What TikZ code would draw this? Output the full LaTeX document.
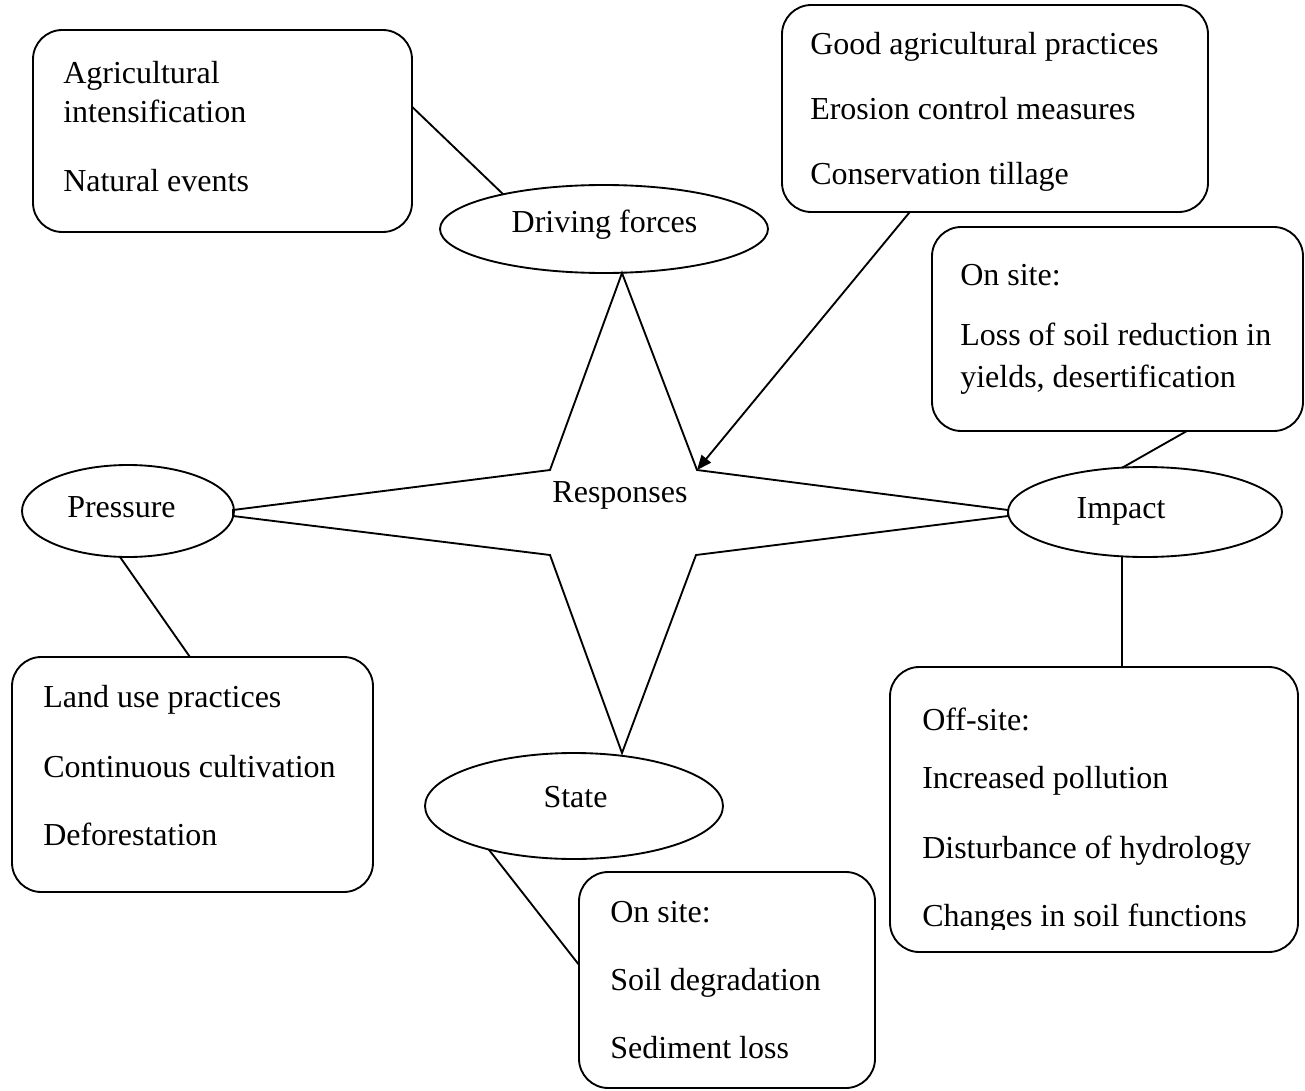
\documentclass[tikz,border=0pt]{standalone}
\usepackage{fontspec}
\setmainfont{Liberation Serif}
\usetikzlibrary{arrows.meta,shapes.geometric,calc}
\begin{document}
\begin{tikzpicture}[x=0.75pt,y=-0.75pt,
  every node/.style={font=\fontsize{24}{28}\selectfont},
  box/.style={draw, rounded corners=22pt, line width=1.4pt, inner sep=0pt, outer sep=0pt},
  oval/.style={draw, ellipse, line width=1.4pt, inner sep=0pt, outer sep=0pt},
  txt/.style={anchor=base west, inner sep=0pt},
  lbl/.style={anchor=base, inner sep=0pt},
  link/.style={line width=1.4pt}]
\useasboundingbox (0,0) rectangle (1305,1091);

% boxes
\node[box, minimum width=379*0.75pt, minimum height=202*0.75pt] (b1) at (222.5,131) {};
\node[box, minimum width=426*0.75pt, minimum height=207*0.75pt] (b2) at (995,108.5) {};
\node[box, minimum width=371*0.75pt, minimum height=204*0.75pt] (b3) at (1117.5,329) {};
\node[box, minimum width=361*0.75pt, minimum height=235*0.75pt] (pb) at (192.5,774.5) {};
\node[box, minimum width=296*0.75pt, minimum height=216*0.75pt] (sb) at (727,980) {};
\node[box, minimum width=408*0.75pt, minimum height=285*0.75pt] (ob) at (1094,809.5) {};

% ellipses
\node[oval, minimum width=328*0.75pt, minimum height=88*0.75pt] (df) at (604,229) {};
\node[oval, minimum width=212*0.75pt, minimum height=92*0.75pt] (pr) at (128,511) {};
\node[oval, minimum width=274*0.75pt, minimum height=90*0.75pt] (imp) at (1145,512) {};
\node[oval, minimum width=298*0.75pt, minimum height=106*0.75pt] (st) at (574,806) {};

% ellipse labels
\node[lbl] (tdf) at (604.5,233) {Driving forces};
\node[lbl] (tpr) at (121.5,517) {Pressure};
\node[lbl] (timp) at (1121,518) {Impact};
\node[lbl] (tst) at (575.5,807) {State};

% star
\coordinate (sT) at (622,273);
\coordinate (sUR) at (697,470);
\coordinate (sR1) at (1008,510);
\coordinate (sR2) at (1008,516);
\coordinate (sLR) at (696,555);
\coordinate (sB) at (622,753);
\coordinate (sLL) at (550,555);
\coordinate (sL2) at (233,516);
\coordinate (sL1) at (233,510);
\coordinate (sUL) at (550,470);
\draw[link] (sT) -- (sUR) -- (sR1) -- (sR2) -- (sLR) -- (sB) -- (sLL) -- (sL2) -- (sL1) -- (sUL) -- cycle;
\node[lbl] (resp) at (620,502) {Responses};

% box texts
\node[txt] (b1a) at (63,84) {Agricultural};
\node[txt] (b1b) at (63,123) {intensification};
\node[txt] (b1c) at (63,192) {Natural events};

\node[txt] (b2a) at (810,55) {Good agricultural practices};
\node[txt] (b2b) at (810,120) {Erosion control measures};
\node[txt] (b2c) at (810,185) {Conservation tillage};

\node[txt] (b3a) at (960,285) {On site:};
\node[txt] (b3b) at (960,345) {Loss of soil reduction in};
\node[txt] (b3c) at (960,387) {yields, desertification};

\node[txt] (pba) at (43,707) {Land use practices};
\node[txt] (pbb) at (43,777) {Continuous cultivation};
\node[txt] (pbc) at (43,845) {Deforestation};

\node[txt] (sba) at (610,922) {On site:};
\node[txt] (sbb) at (610,990) {Soil degradation};
\node[txt] (sbc) at (610,1058) {Sediment loss};

\node[txt] (oba) at (922,730) {Off-site:};
\node[txt] (obb) at (922,788) {Increased pollution};
\node[txt] (obc) at (922,858) {Disturbance of hydrology};
\begin{scope}
\clip (895,880) rectangle (1295,929);
\node[txt] (obd) at (922,926) {Changes in soil functions};
\end{scope}

% connectors
\draw[link] ($(b1.north east)!0.38!(b1.south east)$) -- (df.161);
\draw[link, -{Triangle[length=11pt,width=9pt]}] ($(b2.south west)!0.30!(b2.south east)$) -- (sUR);
\draw[link] ($(b3.south west)!0.687!(b3.south east)$) -- (imp.117);
\draw[link] (imp.243) -- (imp.243 |- ob.north);
\draw[link] (pr.260) -- ($(pb.north west)!0.493!(pb.north east)$);
\draw[link] (st.207) -- ($(sb.north west)!0.43!(sb.south west)$);
\end{tikzpicture}
\end{document}
